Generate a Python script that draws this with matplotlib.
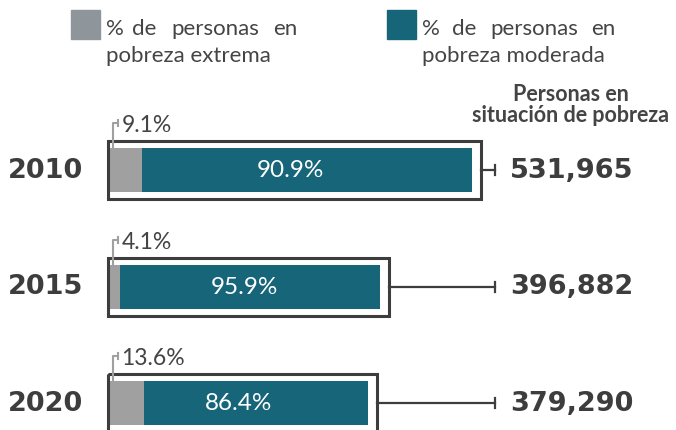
import numpy as np
import matplotlib.pyplot as plt
from matplotlib.patches import Rectangle

# datos
years = ["2010", "2015", "2020"]
pct_extrema = [9.1, 4.1, 13.6]
pct_moderada = [90.9, 95.9, 86.4]
personas = [531965, 396882, 379290]

GRIS = "#a0a0a0"
GRIS_LEY = "#8e959b"
TEAL = "#166578"
OSCURO = "#3d3d3d"
TEXTO = "#444444"

W, H = 676, 431
fig = plt.figure(figsize=(W / 100, H / 100), dpi=100)
ax = fig.add_axes([0, 0, 1, 1])
ax.axis("off")

# escala: px -> unidades de datos
kx = max(personas) / 363
ky = 1 / 116.5
ax.set_xlim(-109 * kx, (W - 109) * kx)
ax.set_ylim((H - 171) * ky, -171 * ky)

y = np.arange(len(years))
tot = np.array(personas, dtype=float)
ext = tot * np.array(pct_extrema) / 100
mod = tot * np.array(pct_moderada) / 100

ax.barh(y, ext, height=44 * ky, color=GRIS, zorder=2)
ax.barh(y, mod, left=ext, height=44 * ky, color=TEAL, zorder=2)

tick_x = 386 * kx
for i in range(len(years)):
    yi = y[i]
    # marco
    ax.add_patch(Rectangle((-1 * kx, yi - 29 * ky), tot[i] + 10 * kx, 58 * ky,
                           fill=False, ec=OSCURO, lw=2.2, zorder=3))
    # conector
    ax.plot([tot[i] + 9 * kx, tick_x], [yi, yi], color=OSCURO, lw=1.6, zorder=1)
    ax.plot([tick_x, tick_x], [yi - 5 * ky, yi + 5 * ky], color=OSCURO, lw=1.6)
    ax.text(401 * kx, yi, f"{personas[i]:,}", ha="left", va="center",
            fontsize=19.5, fontweight="bold", family="DejaVu Sans", color=OSCURO)
    ax.text(-101 * kx, yi, years[i], ha="left", va="center",
            fontsize=19.5, fontweight="bold", family="DejaVu Sans", color=OSCURO)
    # etiqueta pobreza extrema
    ax.plot([3.5 * kx, 3.5 * kx, 9 * kx], [yi - 22 * ky, yi - 47 * ky, yi - 47 * ky],
            color=GRIS, lw=1.5, zorder=4)
    ax.plot([9 * kx, 9 * kx], [yi - 50 * ky, yi - 44 * ky], color=GRIS, lw=1.5, zorder=4)
    ax.text(12.5 * kx, yi - 45 * ky, f"{pct_extrema[i]}%", ha="left", va="center",
            fontsize=16.5, family="Lato", color=TEXTO)
    # etiqueta pobreza moderada
    ax.text(tot[i] / 2, yi, f"{pct_moderada[i]}%", ha="center", va="center",
            fontsize=17.5, family="Lato", color="white", zorder=5)

# leyenda
def fx(px):
    return px / W


def fy(py):
    return 1 - py / H


fig.patches.append(Rectangle((fx(71), fy(40)), 29 / W, 29 / H, color=GRIS_LEY,
                             transform=fig.transFigure))
fig.patches.append(Rectangle((fx(387), fy(40)), 29 / W, 29 / H, color=TEAL,
                             transform=fig.transFigure))

palabras = ["%", "de", "personas", "en"]
for xs, linea2 in [([106, 132, 171, 273], "pobreza extrema"),
                   ([422, 452, 490, 591], "pobreza moderada")]:
    for px, w in zip(xs, palabras):
        fig.text(fx(px), fy(35), w, ha="left", va="baseline", fontsize=16,
                 family="Lato", color=TEXTO)
    fig.text(fx(xs[0]), fy(62), linea2, ha="left", va="baseline", fontsize=16,
             family="Lato", color=TEXTO)

fig.text(fx(571), fy(101), "Personas en", ha="center", va="baseline",
         fontsize=15.5, family="Lato", fontweight="bold", color=TEXTO)
fig.text(fx(571), fy(122), "situación de pobreza", ha="center", va="baseline",
         fontsize=15.5, family="Lato", fontweight="bold", color=TEXTO)

fig.savefig("out.png", dpi=100)
